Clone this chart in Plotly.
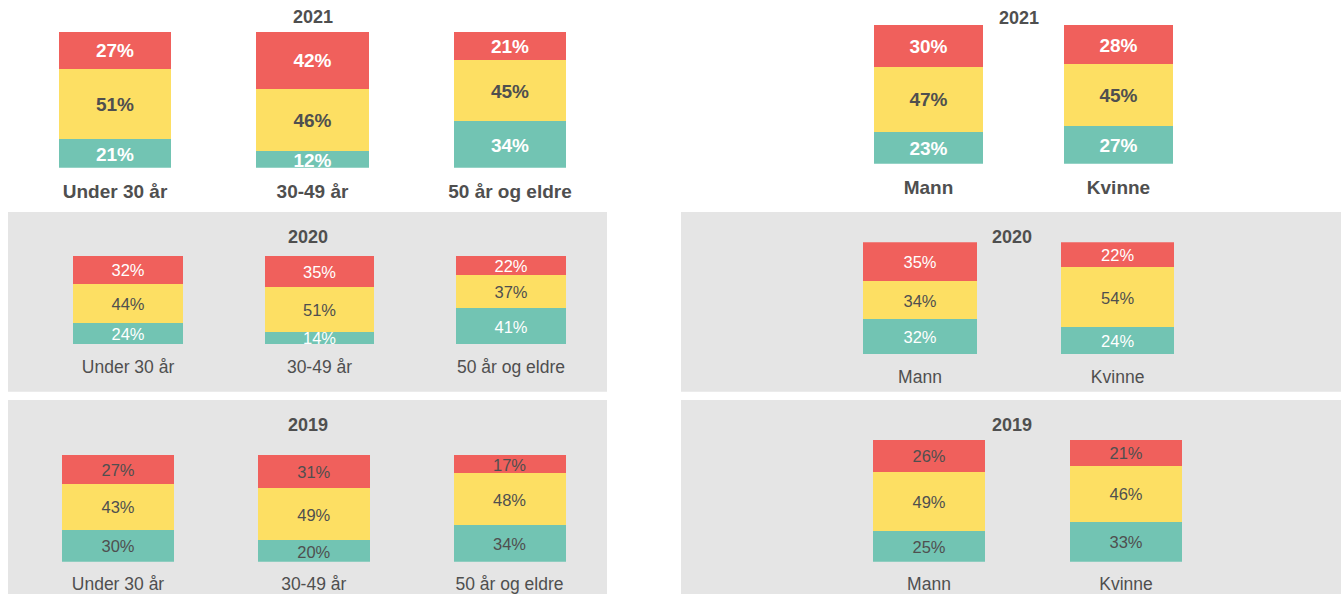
import plotly.graph_objects as go

# ---------------- data ----------------
years = ["2021", "2020", "2019"]
age_groups = ["Under 30 år", "30-49 år", "50 år og eldre"]
genders = ["Mann", "Kvinne"]

# bottom (green), middle (yellow), top (red)
age_green = {"2021": [21, 12, 34], "2020": [24, 14, 41], "2019": [30, 20, 34]}
age_yellow = {"2021": [51, 46, 45], "2020": [44, 51, 37], "2019": [43, 49, 48]}
age_red = {"2021": [27, 42, 21], "2020": [32, 35, 22], "2019": [27, 31, 17]}

gender_green = {"2021": [23, 27], "2020": [32, 24], "2019": [25, 33]}
gender_yellow = {"2021": [47, 45], "2020": [34, 54], "2019": [49, 46]}
gender_red = {"2021": [30, 28], "2020": [35, 22], "2019": [26, 21]}

# ---------------- styling ----------------
W, H = 1341, 594
GREEN = "#72C4B3"
YELLOW = "#FDDF63"
RED = "#F0605C"
DARK = "#4F4F4F"
WHITE = "#FFFFFF"
BG = "#E5E5E5"
FONT = "Liberation Sans, Arial, sans-serif"
LABEL_SHIFT_PX = 2.5  # small downward nudge of the in-bar labels

# panel geometry in pixels: (x_left, x_right, y_top, y_bottom) of plotting area
panels = {
    ("age", "2021"): (16.25, 608.75, 31.7, 167.7),
    ("age", "2020"): (32.25, 606.75, 255.7, 344.0),
    ("age", "2019"): (20.1, 607.4, 454.7, 561.7),
    ("gender", "2021"): (833.5, 1213.5, 25.0, 163.7),
    ("gender", "2020"): (821.2, 1216.4, 242.3, 354.3),
    ("gender", "2019"): (830.5, 1224.5, 440.0, 561.7),
}
title_pos = {
    ("age", "2021"): (313, 17), ("age", "2020"): (308, 237), ("age", "2019"): (308, 425),
    ("gender", "2021"): (1018.5, 18), ("gender", "2020"): (1012, 237), ("gender", "2019"): (1012, 425),
}

row_style = {
    "2021": dict(size=19, bold=True, colors=(WHITE, DARK, WHITE), cat_size=19),
    "2020": dict(size=16.5, bold=False, colors=(WHITE, DARK, WHITE), cat_size=17.5),
    "2019": dict(size=16.5, bold=False, colors=(DARK, DARK, DARK), cat_size=17.5),
}

fig = go.Figure()
layout_axes = {}
annotations = []
shapes = []

# gray backgrounds for 2020 and 2019 rows
for (y0, y1) in [(212, 391.7), (400, 594)]:
    for (x0, x1) in [(8, 607), (681, 1341)]:
        shapes.append(dict(type="rect", xref="paper", yref="paper",
                           x0=x0 / W, x1=x1 / W, y0=1 - y1 / H, y1=1 - y0 / H,
                           fillcolor=BG, line=dict(width=0), layer="below"))

BAR_W = 0.572
idx = 0
for kind, cats, G, Y, R in [("age", age_groups, age_green, age_yellow, age_red),
                            ("gender", genders, gender_green, gender_yellow, gender_red)]:
    for yr in years:
        idx += 1
        xa = "x" if idx == 1 else f"x{idx}"
        ya = "y" if idx == 1 else f"y{idx}"
        st = row_style[yr]
        x0, x1, yt, yb = panels[(kind, yr)]
        shift = LABEL_SHIFT_PX / (yb - yt) * 100
        series = [(G[yr], GREEN, st["colors"][0]),
                  (Y[yr], YELLOW, st["colors"][1]),
                  (R[yr], RED, st["colors"][2])]
        totals = [g + y + r for g, y, r in zip(G[yr], Y[yr], R[yr])]
        cum = [0.0] * len(cats)
        for vals, col, tcol in series:
            fig.add_trace(go.Bar(x=cats, y=vals, marker=dict(color=col, line=dict(width=0)),
                                 width=BAR_W, xaxis=xa, yaxis=ya, showlegend=False,
                                 hoverinfo="skip"))
            mids = []
            for i, v in enumerate(vals):
                share = v / totals[i] * 100
                mids.append(cum[i] + share / 2 - shift)
                cum[i] += share
            fig.add_trace(go.Scatter(
                x=cats, y=mids, mode="text",
                text=[f"<b>{v}%</b>" if st["bold"] else f"{v}%" for v in vals],
                textposition="middle center",
                textfont=dict(family=FONT, size=st["size"], color=tcol),
                xaxis=xa, yaxis=ya, showlegend=False, hoverinfo="skip", cliponaxis=True))
        key = "" if idx == 1 else str(idx)
        layout_axes[f"xaxis{key}"] = dict(
            domain=[x0 / W, x1 / W], range=[-0.5, len(cats) - 0.5], anchor=ya,
            type="category", categoryorder="array", categoryarray=cats,
            showgrid=False, zeroline=False, showline=False, ticks="",
            tickfont=dict(family=FONT, size=st["cat_size"], color=DARK,
                          weight="bold" if st["bold"] else "normal"),
            ticklabelstandoff=10, fixedrange=True)
        layout_axes[f"yaxis{key}"] = dict(
            domain=[1 - yb / H, 1 - yt / H], range=[0, 100], anchor=xa,
            showgrid=False, zeroline=False, showline=False, showticklabels=False,
            ticks="", fixedrange=True)
        tx, ty = title_pos[(kind, yr)]
        annotations.append(dict(text=f"<b>{yr}</b>", x=tx / W, y=1 - ty / H, xref="paper",
                                yref="paper", showarrow=False, xanchor="center", yanchor="middle",
                                font=dict(family=FONT, size=18, color=DARK)))

fig.update_layout(
    width=W, height=H, margin=dict(l=0, r=0, t=0, b=0),
    paper_bgcolor="white", plot_bgcolor="rgba(0,0,0,0)",
    barmode="stack", barnorm="percent",
    shapes=shapes, annotations=annotations,
    font=dict(family=FONT, color=DARK),
    **layout_axes,
)

fig.write_html("out.html", config={"displayModeBar": False},
               post_script="document.body.style.margin='0';document.body.style.overflow='hidden';")
